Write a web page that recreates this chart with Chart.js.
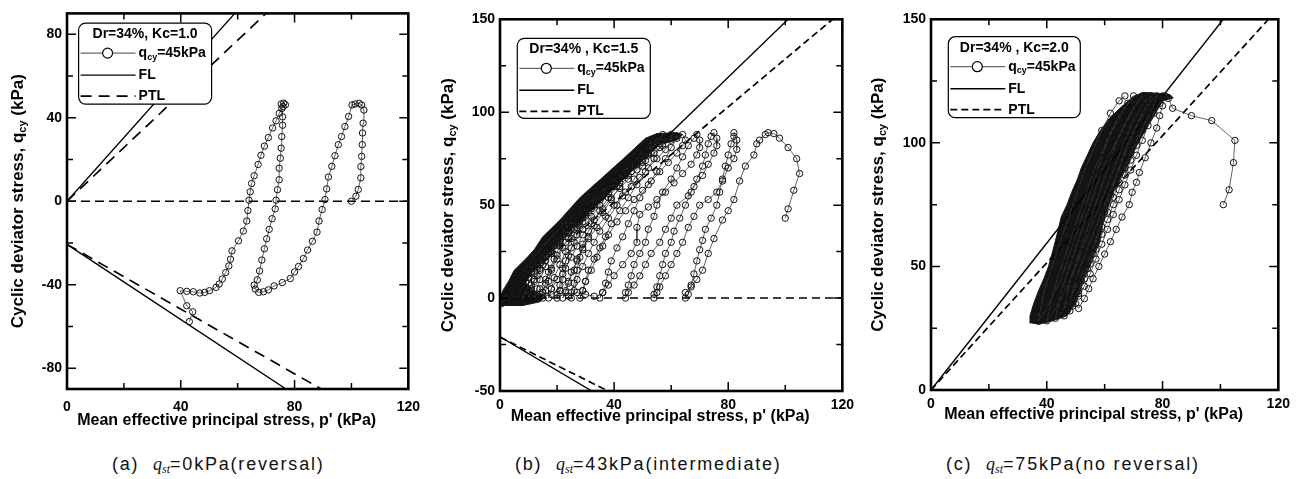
<!DOCTYPE html>
<html>
<head>
<meta charset="utf-8">
<script src="https://cdn.jsdelivr.net/npm/chart.js@4.4.1/dist/chart.umd.min.js"></script>
<style>
  body { margin: 0; background: #fff; width: 1303px; height: 479px; overflow: hidden; position: relative; }
  canvas { position: absolute; top: 0; }
  .cap { position: absolute; top: 454px; font: 18px "Liberation Sans", Arial, sans-serif; letter-spacing: 1.8px; color: #111; white-space: nowrap; }
  .cap i { font-family: "Liberation Serif", "DejaVu Serif", serif; letter-spacing: 0; }
  .cap sub { font-size: 12px; vertical-align: -3px; line-height: 0; }
</style>
</head>
<body>
<canvas id="pa" width="430" height="440" style="left:0"></canvas>
<canvas id="pb" width="430" height="440" style="left:430px"></canvas>
<canvas id="pc" width="443" height="440" style="left:860px"></canvas>
<div class="cap" style="left:112px">(a)&nbsp; <i>q<sub>st</sub></i>=0kPa(reversal)</div>
<div class="cap" style="left:515px">(b)&nbsp; <i>q<sub>st</sub></i>=43kPa(intermediate)</div>
<div class="cap" style="left:946px">(c)&nbsp; <i>q<sub>st</sub></i>=75kPa(no reversal)</div>
<script>
// stress paths, [p', q_cy] in kPa
const pathA = [
  [100,0],[101.6,2.4],[102.4,5.6],[103.3,11.2],[103.3,16.6],[103.6,21.5],[103.8,27.1],[103.9,32.7],[104.1,37.4],[104.4,43.7],
  [103.6,46.1],[102.7,46.9],[101.3,46.6],[100.2,46.1],[99.0,40.6],[97.7,35.8],[96.5,31.0],[95.4,27.1],[94.2,21.8],[93.1,16.7],
  [91.9,11.6],[91.3,5.9],[90.7,0.8],[89.7,-4.0],[88.6,-9.5],[87.9,-14.8],[86.3,-19.2],[84.6,-23.4],[83.1,-27.5],[81.4,-31.3],
  [80.0,-33.9],[78.5,-37.1],[75.7,-39.0],[72.8,-40.6],[70.8,-42.5],[69.1,-43.4],[67.4,-43.7],[66.2,-42.1],[65.8,-40.2],
  [66.9,-37.7],[67.7,-33.4],[68.5,-28.2],[69.4,-22.8],[70.2,-18.0],[71.1,-13.5],[72.1,-8.4],[73.2,-3.7],[73.5,0.5],[74.0,5.5],
  [74.6,10.3],[74.6,15.8],[75.0,20.6],[75.3,25.4],[75.5,31.0],[75.8,36.4],[75.8,40.4],[75.5,44.4],[75.3,46.6],[76.2,47.0],
  [76.8,46.2],[75.9,45.3],[74.6,42.1],[73.5,38.5],[72.3,35.1],[70.8,30.5],[69.4,26.4],[68.2,22.0],[67.2,17.6],[65.8,12.2],
  [64.9,8.5],[64.4,4.5],[64.0,0.5],[63.6,-4.5],[63.2,-9.5],[62.0,-14.3],[60.3,-19.0],[58.0,-23.8],[57.5,-27.8],[56.9,-31.0],
  [55.8,-34.2],[54.6,-37.3],[53.5,-39.7],[52.4,-41.3],[50.1,-42.9],[48.4,-43.7],[46.7,-44.0],[44.4,-43.4],[42.1,-43.2],
  [39.8,-42.9],[42.1,-50.1],[44.2,-53.0],[43.0,-57.7]
];

const pathB = [
  [100,43],[101,48],[103,58],[105,67],[104,75],[101,81],[98,86],[96,88.5],[94,89],[93,88],
  [91,85],[90,83],[89,77],[86,71],[84,63],[82,53],[80,47],[78,42],[75,32],[73,24],[71,15],[69,10],[67,6],[65,3],[65,0],
  [66,2],[67,7],[68,13],[69,20],[70,26],[71,31],[72,37],[74,43],[76,50],[77,57],[78,64],[79,71],[80,77],[81,83],[82,87],[82,89],
  [83,85],[83,80],[82,75],[80,70],[78,63],[76,57],[73,53],[70,50],[68,44],[66,38],[64,30],[62,24],[60,18],[58,12],[56,6],[55,3],[54,0],
  [54,2],[55,6],[56,12],[57,18],[58,24],[60,30],[61,36],[63,43],[65,50],[67,57],[69,64],[71,71],[72,77],[73,83],[74,87],[75,89],
  [76,86],[76,82],[75,78],[73,72],[71,66],[68,60],[66,55],[62,50],[60,43],[58,37],[56,30],[53,24],[51,18],[49,12],[47,7],[45,3],[44,0],
  [44,3],[45,7],[46,12],[47,18],[49,24],[51,30],[52,37],[54,44],[55,50],[57,57],[60,64],[62,70],[64,76],[66,82],[68,86],[69,88],
  [70,85],[70,81],[69,77],[67,72],[64,67],[61,62],[58,57],[55,53],[52,49],[49,45],[48,38],[48,30],[46,24],[43,18],[40,12],[38,7],[36,3],[35,0],
  [36,3],[37,8],[38,14],[39,20],[41,27],[43,33],[45,40],[47,47],[49,54],[52,61],[55,68],[58,75],[60,81],[62,86],[64,88],
  [65,85],[64,82],[62,78],[59,73],[56,68],[53,63],[50,58],[47,53],[44,47],[41,41],[38,34],[36,28],[34,22],[32,15],[30,9],[29,4],[28,0],
  [29,4],[30,9],[31,15],[33,21],[35,27],[37,33],[39,40],[42,47],[45,54],[48,61],[51,68],[54,75],[56,81],[58,85],[60,88],
  [60,85],[58,80],[55,75],[52,70],[49,65],[46,60],[43,55],[40,50],[37,44],[34,38],[31,32],[29,26],[27,20],[25,14],[24,8],[23,3],[22,0],
  [23,4],[24,9],[26,15],[27,21],[29,27],[31,33],[33,39],[36,46],[39,53],[42,60],[45,66],[48,72],[51,77],[54,82],[56,86],[57,88],
  [56,83],[53,78],[50,73],[46,68],[42,62],[38,56],[35,50],[32,44],[29,37],[26,30],[24,23],[22,16],[20,10],[18,5],[17,0],
  [18,5],[19,11],[21,18],[23,25],[25,32],[28,39],[31,46],[34,52],[38,59],[42,65],[45,70],[48,75],[51,80],[53,84],
  [52,78],[48,73],[44,67],[40,61],[36,55],[32,49],[29,43],[26,37],[23,30],[20,23],[18,16],[16,10],[14,5],[12,0],
  [13,5],[14,10],[16,17],[18,24],[20,30],[23,36],[26,42],[30,48],[33,53],[37,58],[41,64],[44,69],[47,73],[48,75],
  [46,71],[42,66],[38,60],[34,54],[30,48],[27,42],[24,36],[21,30],[18,24],[15,18],[13,12],[11,7],[9,3],[8,0],
  [9,3],[10,8],[12,14],[14,20],[16,26],[19,31],[22,36],[25,41],[28,45],[32,50],[35,55],[38,59],[41,63],[42,65],
  [40,60],[36,55],[32,50],[28,44],[24,38],[21,33],[18,28],[15,22],[13,17],[10,11],[8,6],[6,2],[5,0],
  [6,3],[7,7],[9,12],[11,17],[13,21],[16,26],[19,31],[22,36],[26,40],[29,45],[32,49],[35,53],[36,55],
  [33,50],[29,45],[25,40],[21,34],[18,29],[15,24],[12,19],[10,14],[8,9],[6,5],[4,2],[3,-1],
  [4,2],[5,6],[7,10],[9,14],[12,18],[15,22],[18,27],[21,31],[24,36],[27,41],[28,42],
  [25,37],[21,32],[17,26],[14,21],[11,16],[8,11],[6,7],[4,3],[2,0],[1,-2],
  [2,1],[4,5],[6,8],[8,12],[11,16],[14,20],[17,25],[20,29],
  [17,24],[13,18],[10,13],[7,9],[4,4],[2,1],[0.5,-2],
  [2,2],[4,5],[7,9],[10,14],[13,18],
  [9,12],[6,7],[3,3],[1,-1],[0.5,-3],
  [2,2],[6,10],[12,22],[20,36],[30,50],[40,64],[50,78],[58,86],[62,87],
  [60,86],[57,82],[54,78],[51,74],[48,69],[45,64],[42,59],[39,54],[36,48],[33,42],[31,36],[29,29],[28,22],[27,15],[26,8],[25,3],[25,0],
  [26,4],[27,10],[29,17],[31,24],[33,30],[35,36],[38,43],[41,50],[44,57],[47,64],[50,71],[52,77],[54,82],[55,86],
  [53,81],[50,76],[47,71],[43,66],[39,60],[35,54],[32,48],[29,41],[27,34],[25,27],[23,20],[22,13],[21,7],[20,2],[20,0],
  [21,4],[22,10],[23,16],[25,22],[27,28],[29,34],[32,40],[35,47],[38,54],[41,60],[44,66],[47,72],[49,77],[50,80],
  [48,75],[45,70],[41,65],[37,59],[33,53],[30,47],[27,41],[24,35],[21,28],[19,21],[17,14],[16,8],[15,3],[15,0],
  [16,4],[17,9],[18,15],[20,21],[22,27],[24,32],[27,38],[30,44],[33,50],[36,55],[39,61],[42,66],[44,70],[45,72],
  [43,68],[40,63],[36,58],[32,52],[28,46],[25,40],[22,34],[19,28],[16,22],[14,16],[12,10],[11,5],[10,2],[10,0],
  [11,4],[12,9],[14,15],[16,20],[18,25],[21,30],[24,35],[27,40],[30,45],[33,50],[36,56],[38,60],
  [35,55],[31,50],[27,44],[23,38],[20,32],[17,27],[14,21],[12,16],[10,11],[8,6],[7,2],[6,0],
  [7,4],[9,9],[11,14],[13,18],[16,23],[19,28],[22,33],[25,38],[28,43],[31,48],
  [28,43],[24,38],[20,32],[17,27],[14,22],[11,17],[9,12],[7,8],[5,4],[3,0],
  [6,1],[9,3],[12,1],[15,3],[18,2],[21,4],[24,1],[27,3],[30,2],[33,1]
];

const pathC = [
  [101,75],[103,81],[104.5,92],[105,101],[97,109],[90,111],[83.5,114],[82,118],[81,119],
  [80,115],[79,111],[78,106],[76,100],[74,94],[72,88],[71,84],[69.5,80],[68.5,75],[66,70],[64,65],[62,60],[60,55],[58,50],[56,45],[54.5,41],[53,37],[51,33],
  [50,35],[51,39],[52,44],[54,49],[56,55],[57,60],[59,66],[61,72],[63,78],[65,84],[67,90],[69,96],[71,101],[73,106],[75,111],[77,115],[79,118],[80,119],
  [79,116],[77,112],[75,107],[73,101],[71,95],[69,89],[67,83],[65,77],[63,71],[61,65],[59,59],[57,53],[55,47],[53,42],[51,38],[49,34],[48,32],
  [48,35],[49,40],[50,45],[52,51],[54,57],[56,63],[58,69],[60,75],[62,81],[64,87],[66,93],[68,99],[70,104],[72,109],[74,113],[76,117],[78,119],
  [77,115],[75,110],[73,105],[71,99],[69,93],[67,87],[65,81],[63,75],[61,69],[59,63],[57,57],[55,51],[53,45],[51,40],[49,36],[47,32],[46,30],
  [46,33],[47,38],[48,44],[50,50],[52,56],[54,62],[56,68],[58,74],[60,80],[62,86],[64,92],[66,98],[68,104],[70,109],[72,113],[74,117],[76,119],
  [74,114],[71,107],[68,100],[66,93],[64,86],[62,79],[60,72],[58,65],[56,58],[54,51],[51,44],[48,37],[45,31],[43,29],
  [44,34],[45,40],[47,47],[49,54],[51,61],[53,68],[55,75],[57,82],[59,89],[62,96],[65,103],[68,110],[71,116],[73,119],
  [70,114],[67,107],[64,100],[62,93],[60,86],[58,79],[56,72],[54,65],[52,58],[50,51],[48,44],[45,37],[42,31],[40,28],
  [41,33],[42,39],[44,46],[46,53],[48,60],[50,67],[52,74],[54,81],[56,88],[59,96],[62,104],[65,111],[68,116],[70,119],
  [67,114],[64,108],[61,101],[59,94],[57,87],[55,80],[53,73],[51,66],[49,59],[47,52],[45,45],[42,38],[39,31],[37,28],
  [38,33],[39,40],[41,47],[43,54],[45,61],[47,68],[49,75],[51,82],[53,89],[56,97],[59,105],[62,112],[65,117],[67,119]
];

// outline of the region where the many later cycles overprint into solid black
const massB = [
  [-1,-3],[1,4],[3,9],[5,15],[9,21],[12,26],[15,33],[21,42],[28,54],[36,65],[44,76],[51,86],[55,88.5],[62,89],[64,88],
  [62,85],[56,83],[50,75],[44,65],[38,56],[32,48],[26,39],[20,30],[15,22],[11,15],[9,8],[12,4],[16,1],[14,-2],[8,-4],[0,-4]
];
const massC = [
  [34.2,27],[34.2,30],[35.5,35],[37.1,40],[39,45],[40.6,50],[41.8,55],[42.9,60],[44,65],[45,70],[47,75],[48.6,80],[50.5,85],
  [52,90],[54,95],[56,100],[58.5,105],[61.7,110],[65.3,114],[69.9,118.8],[73.4,120.4],[79.1,120],[82.6,119.5],[83.7,118.2],
  [80,117],[76.6,110],[74,105],[71.6,100],[69.5,95],[67.6,90],[65.3,85],[63,80],[61.5,75],[60,70],[59,65],[58.4,60],[56.5,55],
  [54.9,50],[53,45],[51.5,40],[50,35],[46.9,30],[42,28],[37,26.5]
];

// failure line (FL) and phase transformation line (PTL): compression / extension branches
const flA = [[[0,0],[59,90]], [[0,-20.7],[77,-90]]];
const ptlA = [[[0,0],[70,90]], [[0,-20.7],[89.4,-90]]];
const flB = [[[0,0],[101,150]], [[0,-20.8],[32.2,-50]]];
const ptlB = [[[0,0],[116.6,150]], [[0,-21],[37.9,-50]]];
const flC = [[[0,0],[101,150]]];
const ptlC = [[[0,0],[116.6,150]]];
const zeroLine = [[0,0],[120,0]];

// tick marks, and which of them carry a label
const xTicks = [0, 20, 40, 60, 80, 100, 120];
const xLabelled = [0, 40, 80, 120];
const yTicksA = [-80, -60, -40, -20, 0, 20, 40, 60, 80];
const yLabelledA = [-80, -40, 0, 40, 80];
const yTicksB = [-50, -25, 0, 25, 50, 75, 100, 125, 150];
const yLabelledB = [-50, 0, 50, 100, 150];
const yTicksC = [0, 25, 50, 75, 100, 125, 150];
const yLabelledC = [0, 50, 100, 150];

const legendTitles = ['Dr=34%, Kc=1.0', 'Dr=34% , Kc=1.5', 'Dr=34% , Kc=2.0'];

const FONT = '"Liberation Sans", Arial, Helvetica, sans-serif';
const xy = pts => pts.map(([x, y]) => ({ x, y }));

// draw text pieces, some as subscripts
function rich(ctx, parts, x, y, size, align) {
  const big = 'bold ' + size + 'px ' + FONT;
  const small = 'bold ' + Math.round(size * 0.62) + 'px ' + FONT;
  let w = 0;
  parts.forEach(p => { ctx.font = p.sub ? small : big; w += ctx.measureText(p.t).width; });
  let cx = align === 'center' ? x - w / 2 : x;
  ctx.textAlign = 'left';
  ctx.textBaseline = 'middle';
  parts.forEach(p => {
    ctx.font = p.sub ? small : big;
    ctx.fillText(p.t, cx, p.sub ? y + size * 0.3 : y);
    cx += ctx.measureText(p.t).width;
  });
}

function roundBox(ctx, x, y, w, h, r) {
  ctx.beginPath();
  ctx.moveTo(x + r, y);
  ctx.arcTo(x + w, y, x + w, y + h, r);
  ctx.arcTo(x + w, y + h, x, y + h, r);
  ctx.arcTo(x, y + h, x, y, r);
  ctx.arcTo(x, y, x + w, y, r);
  ctx.closePath();
}

const framePlugin = {
  id: 'frame',
  afterDatasetsDraw(chart) {
    const { ctx, chartArea: a, scales: { x, y } } = chart;
    ctx.save();
    ctx.strokeStyle = '#000';
    ctx.lineWidth = 1.5;
    ctx.beginPath();
    x.ticks.forEach(t => {
      const px = x.getPixelForValue(t.value), len = t.label !== '' ? 9 : 6;
      ctx.moveTo(px, a.bottom); ctx.lineTo(px, a.bottom - len);
      ctx.moveTo(px, a.top); ctx.lineTo(px, a.top + len);
    });
    y.ticks.forEach(t => {
      const py = y.getPixelForValue(t.value), len = t.label !== '' ? 9 : 6;
      ctx.moveTo(a.left, py); ctx.lineTo(a.left + len, py);
      ctx.moveTo(a.right, py); ctx.lineTo(a.right - len, py);
    });
    ctx.stroke();
    ctx.lineWidth = 2.6;
    ctx.strokeRect(a.left, a.top, a.right - a.left, a.bottom - a.top);
    ctx.restore();
  }
};

const axisTitlePlugin = {
  id: 'axisTitles',
  afterDraw(chart, args, o) {
    const { ctx, chartArea: a } = chart;
    ctx.save();
    ctx.fillStyle = '#000';
    ctx.font = 'bold 16px ' + FONT;
    ctx.textAlign = 'center';
    ctx.textBaseline = 'middle';
    ctx.fillText("Mean effective principal stress, p' (kPa)", (a.left + a.right) / 2 - 11, a.bottom + o.xDy);
    ctx.translate(a.left - o.yDx, (a.top + a.bottom) / 2);
    ctx.rotate(-Math.PI / 2);
    rich(ctx, [{ t: 'Cyclic deviator stress, q' }, { t: 'cy', sub: true }, { t: ' (kPa)' }], 0, 0, 17, 'center');
    ctx.restore();
  }
};

const boxLegend = {
  id: 'boxLegend',
  afterDraw(chart, args, o) {
    const { ctx, chartArea: a } = chart;
    const x0 = a.left + o.dx, y0 = a.top + o.dy;
    ctx.save();
    roundBox(ctx, x0, y0, o.w, o.h, 7);
    ctx.fillStyle = '#fff';
    ctx.fill();
    ctx.strokeStyle = '#000';
    ctx.lineWidth = 1.2;
    ctx.stroke();
    ctx.fillStyle = '#000';
    rich(ctx, [{ t: o.title }], x0 + o.w / 2, y0 + 11, 14, 'center');
    const l0 = x0 + 2, l1 = x0 + 57, tx = x0 + 60;
    // q_cy row: line with a hollow circle
    let ry = y0 + 30;
    ctx.strokeStyle = '#444'; ctx.lineWidth = 1;
    ctx.beginPath(); ctx.moveTo(l0, ry); ctx.lineTo(l1, ry); ctx.stroke();
    ctx.beginPath(); ctx.arc(x0 + 29, ry, 5, 0, Math.PI * 2);
    ctx.fillStyle = '#fff'; ctx.fill();
    ctx.strokeStyle = '#000'; ctx.lineWidth = 1.2; ctx.stroke();
    ctx.fillStyle = '#000';
    rich(ctx, [{ t: 'q' }, { t: 'cy', sub: true }, { t: '=45kPa' }], tx, ry, 14, 'left');
    // FL row
    ry = y0 + 52;
    ctx.strokeStyle = '#000'; ctx.lineWidth = 1.4;
    ctx.beginPath(); ctx.moveTo(l0, ry); ctx.lineTo(l1, ry); ctx.stroke();
    rich(ctx, [{ t: 'FL' }], tx, ry, 14, 'left');
    // PTL row
    ry = y0 + 73;
    ctx.lineWidth = 1.7;
    ctx.setLineDash(o.dash);
    ctx.beginPath(); ctx.moveTo(l0, ry); ctx.lineTo(l1, ry); ctx.stroke();
    ctx.setLineDash([]);
    rich(ctx, [{ t: 'PTL' }], tx, ry, 14, 'left');
    ctx.restore();
  }
};

function makePanel(id, p) {
  const datasets = [{
    data: xy(p.path), borderColor: '#3a3a3a', borderWidth: 0.8,
    pointRadius: 3.2, pointBorderWidth: 1, pointBorderColor: '#111',
    pointBackgroundColor: 'rgba(255,255,255,0)', order: 0
  }];
  p.fl.forEach(seg => datasets.push({ data: xy(seg), borderColor: '#000', borderWidth: 1.4, pointRadius: 0, order: 1 }));
  p.ptl.forEach(seg => datasets.push({ data: xy(seg), borderColor: '#000', borderWidth: 1.7, borderDash: p.ptlDash, pointRadius: 0, order: 1 }));
  if (p.zero) {
    datasets.push({ data: xy(p.zero), borderColor: '#000', borderWidth: 1.5, borderDash: p.zeroDash, pointRadius: 0, order: 1 });
  }
  if (p.mass) {
    datasets.push({ data: xy(p.mass), borderColor: '#141414', borderWidth: 1, backgroundColor: '#141414', fill: 'shape', pointRadius: 0, order: 2 });
  }
  const tickFont = { family: FONT, size: 14, weight: 'bold' };

  new Chart(document.getElementById(id), {
    type: 'line',
    data: { datasets },
    options: {
      responsive: false,
      animation: false,
      events: [],
      layout: { padding: { left: 0, right: p.padRight, top: p.padTop, bottom: 0 } },
      plugins: {
        legend: { display: false },
        tooltip: { enabled: false },
        boxLegend: { title: p.title, dx: p.box[0], dy: p.box[1], w: p.box[2], h: p.box[3], dash: p.ptlDash },
        axisTitles: { xDy: p.xTitleDy, yDx: p.yTitleDx }
      },
      scales: {
        x: {
          type: 'linear', min: 0, max: 120,
          afterFit: s => { s.height = p.xAxisH; },
          afterBuildTicks: s => { s.ticks = xTicks.map(v => ({ value: v })); },
          grid: { display: false, drawTicks: false },
          border: { display: false },
          ticks: {
            autoSkip: false, maxRotation: 0,
            padding: p.xTickPad, color: '#000', font: tickFont,
            callback: v => (xLabelled.includes(v) ? String(v) : '')
          }
        },
        y: {
          type: 'linear', min: p.yMin, max: p.yMax,
          afterFit: s => { s.width = p.yAxisW; },
          afterBuildTicks: s => { s.ticks = p.yTicks.map(v => ({ value: v })); },
          grid: { display: false, drawTicks: false },
          border: { display: false },
          ticks: {
            autoSkip: false,
            padding: 5, color: '#000', font: tickFont,
            callback: v => (p.yLabelled.includes(v) ? String(v) : '')
          }
        }
      }
    },
    plugins: [framePlugin, axisTitlePlugin, boxLegend]
  });
}

makePanel('pa', {
  path: pathA, fl: flA, ptl: ptlA, zero: zeroLine, ptlDash: [11, 7], zeroDash: [9, 5],
  title: legendTitles[0], box: [11.6, 9.7, 133, 81],
  yMin: -90, yMax: 90, yTicks: yTicksA, yLabelled: yLabelledA,
  padRight: 12, padTop: 13, yAxisW: 67, xAxisH: 51, xTickPad: 10, xTitleDy: 32, yTitleDx: 49
});

makePanel('pb', {
  path: pathB, mass: massB, fl: flB, ptl: ptlB, zero: zeroLine, ptlDash: [7, 4], zeroDash: [8, 5],
  title: legendTitles[1], box: [17.3, 19, 133, 80],
  yMin: -50, yMax: 150, yTicks: yTicksB, yLabelled: yLabelledB,
  padRight: 11.7, padTop: 19.3, yAxisW: 70, xAxisH: 49, xTickPad: 6, xTitleDy: 26, yTitleDx: 52
});

makePanel('pc', {
  path: pathC, mass: massC, fl: flC, ptl: ptlC, ptlDash: [7, 4],
  title: legendTitles[2], box: [17.3, 17.4, 132, 81],
  yMin: 0, yMax: 150, yTicks: yTicksC, yLabelled: yLabelledC,
  padRight: 24.7, padTop: 19.3, yAxisW: 71, xAxisH: 50, xTickPad: 6, xTitleDy: 25, yTitleDx: 53
});
</script>
</body>
</html>
